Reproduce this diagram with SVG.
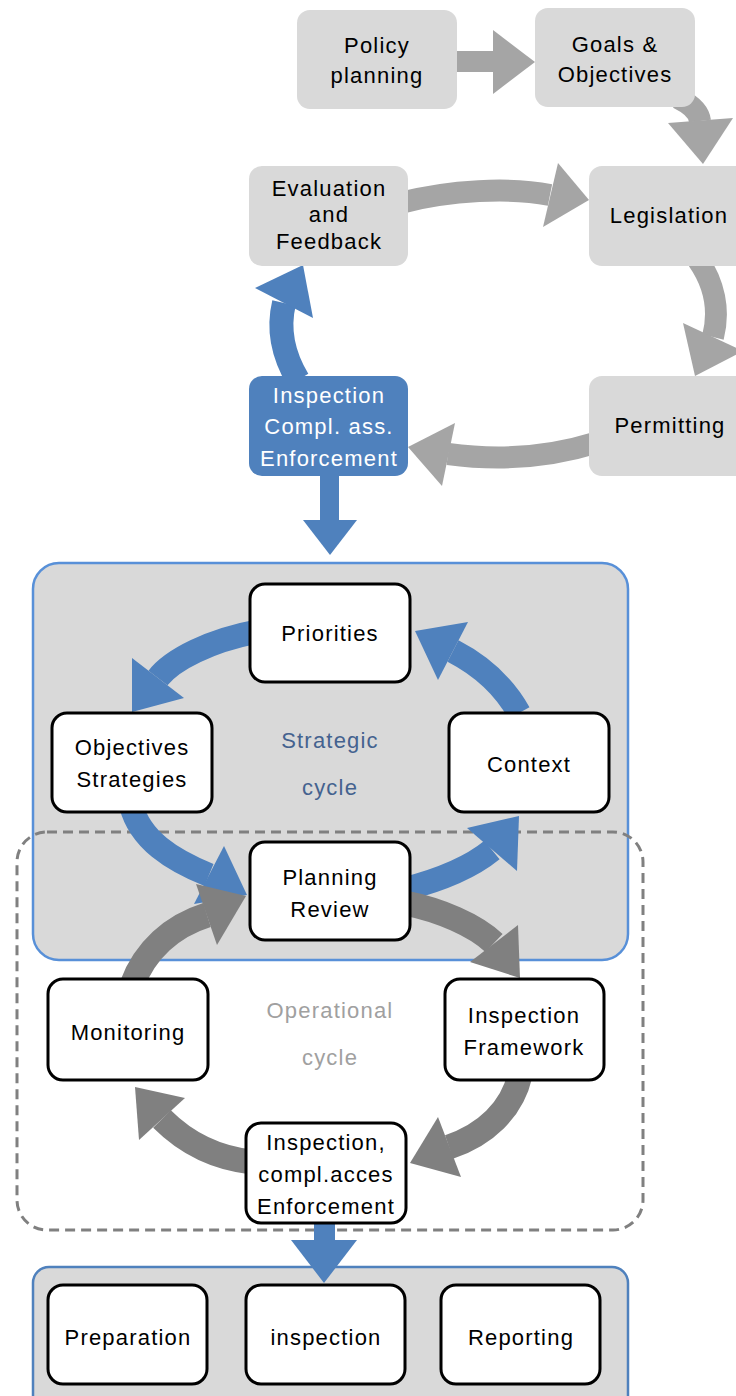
<svg xmlns="http://www.w3.org/2000/svg" width="736" height="1396" viewBox="0 0 736 1396">
<style>
text{font-family:"Liberation Sans",Arial,sans-serif;font-size:22px;letter-spacing:1.2px;text-anchor:middle;fill:#000}
.gn{fill:#d9d9d9}
.bn{fill:#4f81bd}
.wn{fill:#fff;stroke:#000;stroke-width:3}
.tb{fill:none;stroke:#a5a5a5;stroke-width:22}
.th{fill:#a5a5a5}
.bb{fill:none;stroke:#4f81bd;stroke-width:24}
.bh{fill:#4f81bd}
.ob{fill:none;stroke:#808080;stroke-width:25}
.oh{fill:#808080}
.wt{fill:#fff}
</style>
<g id="strategic-container"><rect x="33" y="563" width="595" height="397" rx="26" fill="#d9d9d9" stroke="#5890d8" stroke-width="2.5"/></g>
<g id="bottom-container"><rect x="33" y="1267" width="595" height="150" rx="16" fill="#d9d9d9" stroke="#4f81bd" stroke-width="2.5"/></g>
<g id="operational-container"><rect x="17" y="832" width="626" height="398" rx="30" fill="none" stroke="#808080" stroke-width="3" stroke-dasharray="10 6"/></g>
<g id="connectors">
<rect x="455" y="51" width="40" height="21" class="th"/>
<polygon points="493,30 535,62 493,94" class="th"/>
<path d="M678,98 C690,104 699,112 700,121" class="tb"/>
<polygon points="668,123 733,118 703,164" class="th"/>
<path d="M400,203 C450,190 510,187 550,195" class="tb"/>
<polygon points="558,163 543,227 589,200" class="th"/>
<path d="M698,260 C714,283 720,310 713,337" class="tb"/>
<polygon points="683,323 743,351 695,376" class="th"/>
<path d="M595,443 C550,457 500,461 448,454" class="tb"/>
<polygon points="455,423 442,486 408,447" class="th"/>
<path d="M298,380 C283,355 278,328 284,303" class="bb" stroke-width="22"/>
<polygon points="255,288 313,318 303,265" class="bh"/>
<rect x="320" y="470" width="19" height="51" class="bh"/>
<polygon points="303,520 357,520 330,555" class="bh"/>
<path d="M260,631 C210,640 172,660 158,678" class="bb"/>
<polygon points="132,658 184,698 132,712" class="bh"/>
<path d="M519,713 C505,688 482,666 453,651" class="bb"/>
<polygon points="468,622 438,680 415,631" class="bh"/>
<path d="M131,805 C140,840 172,860 209,875" class="bb"/>
<polygon points="224,846 194,904 247,895" class="bh"/>
<path d="M405,889 C440,880 470,868 492,850" class="bb"/>
<polygon points="467,828 517,871 519,816" class="bh"/>
<path d="M405,903 C440,910 475,925 494,943" class="ob"/>
<polygon points="470,962 518,925 520,978" class="oh"/>
<path d="M520,1075 C512,1110 485,1135 449,1147" class="ob"/>
<polygon points="438,1117 461,1177 410,1163" class="oh"/>
<path d="M252,1162 C215,1158 185,1142 162,1119" class="ob"/>
<polygon points="139,1140 185,1098 135,1087" class="oh"/>
<path d="M132,985 C145,950 172,926 207,915" class="ob"/>
<polygon points="196,884 217,945 246,896" class="oh"/>
<rect x="314" y="1215" width="21" height="26" class="bh"/>
<polygon points="291,1240 357,1240 324,1283" class="bh"/>
</g>
<g id="policy-planning"><rect x="297" y="10" width="160" height="99" rx="13" class="gn"/><text x="377" y="53">Policy</text><text x="377" y="83">planning</text></g>
<g id="goals-objectives"><rect x="535" y="8" width="160" height="99" rx="13" class="gn"/><text x="615" y="52">Goals &amp;</text><text x="615" y="82">Objectives</text></g>
<g id="evaluation-feedback"><rect x="249" y="166" width="159" height="100" rx="13" class="gn"/><text x="329" y="196">Evaluation</text><text x="329" y="222">and</text><text x="329" y="249">Feedback</text></g>
<g id="legislation"><rect x="589" y="166" width="160" height="100" rx="13" class="gn"/><text x="669" y="223">Legislation</text></g>
<g id="permitting"><rect x="589" y="376" width="160" height="100" rx="13" class="gn"/><text x="670" y="433">Permitting</text></g>
<g id="inspection-top"><rect x="249" y="376" width="159" height="100" rx="13" class="bn"/><text x="329" y="403" class="wt">Inspection</text><text x="329" y="434" class="wt">Compl. ass.</text><text x="329" y="466" class="wt">Enforcement</text></g>
<g id="priorities"><rect x="250" y="584" width="160" height="98" rx="15" class="wn"/><text x="330" y="641">Priorities</text></g>
<g id="objectives-strategies"><rect x="52" y="713" width="160" height="99" rx="15" class="wn"/><text x="132" y="755">Objectives</text><text x="132" y="787">Strategies</text></g>
<g id="context"><rect x="449" y="713" width="160" height="99" rx="15" class="wn"/><text x="529" y="772">Context</text></g>
<g id="planning-review"><rect x="250" y="842" width="160" height="98" rx="15" class="wn"/><text x="330" y="885">Planning</text><text x="330" y="917">Review</text></g>
<g id="strategic-label"><text x="330" y="748" style="fill:#44628f">Strategic</text><text x="330" y="795" style="fill:#44628f">cycle</text></g>
<g id="operational-label"><text x="330" y="1018" style="fill:#a0a0a0">Operational</text><text x="330" y="1065" style="fill:#a0a0a0">cycle</text></g>
<g id="monitoring"><rect x="48" y="979" width="160" height="101" rx="15" class="wn"/><text x="128" y="1040">Monitoring</text></g>
<g id="inspection-framework"><rect x="445" y="979" width="159" height="101" rx="15" class="wn"/><text x="524" y="1023">Inspection</text><text x="524" y="1055">Framework</text></g>
<g id="inspection-enforcement"><rect x="246" y="1123" width="160" height="100" rx="15" class="wn"/><text x="326" y="1150">Inspection,</text><text x="326" y="1182">compl.acces</text><text x="326" y="1214">Enforcement</text></g>
<g id="preparation"><rect x="48" y="1285" width="159" height="99" rx="15" class="wn"/><text x="128" y="1345">Preparation</text></g>
<g id="inspection"><rect x="246" y="1285" width="159" height="99" rx="15" class="wn"/><text x="326" y="1345">inspection</text></g>
<g id="reporting"><rect x="441" y="1285" width="159" height="99" rx="15" class="wn"/><text x="521" y="1345">Reporting</text></g>
</svg>
